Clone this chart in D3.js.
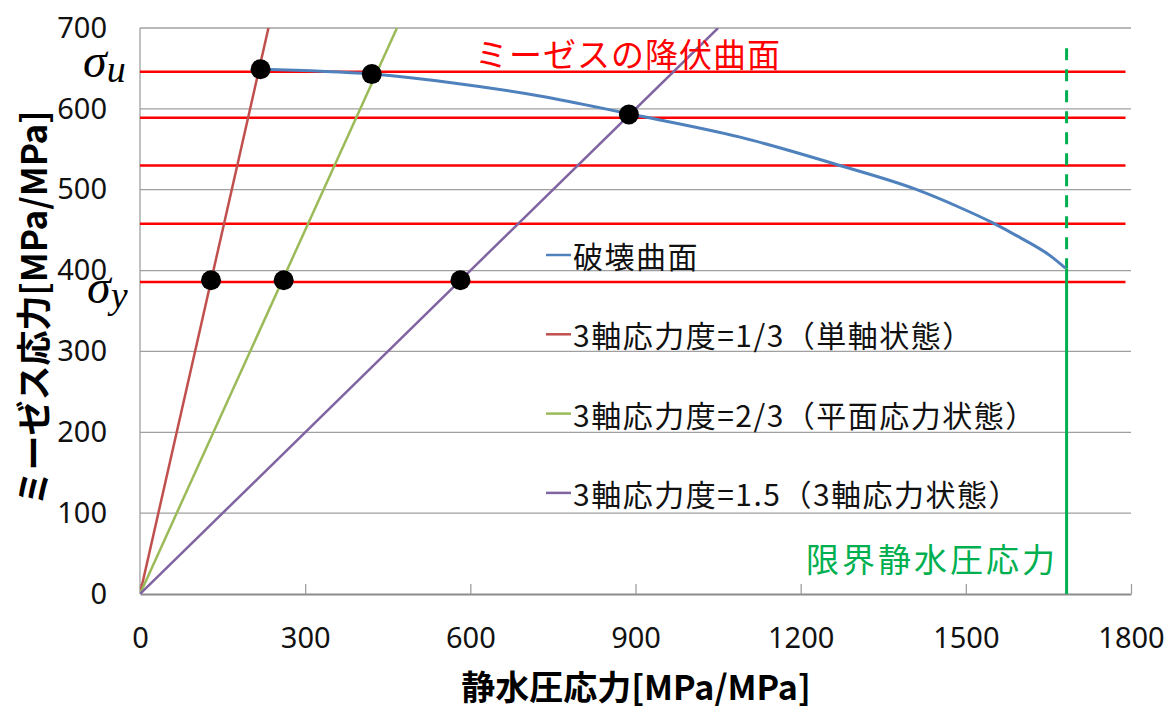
<!DOCTYPE html>
<html lang="ja">
<head>
<meta charset="utf-8">
<script src="https://cdn.jsdelivr.net/npm/d3@7"></script>
<style>
  html, body { margin: 0; padding: 0; background: #fff; }
  svg { display: block; }
  .jp { font-family: "Noto Sans CJK JP", "Noto Sans", sans-serif; }
  .num { font-family: "Noto Sans", "Open Sans", sans-serif; }
</style>
</head>
<body>
<svg id="chart" width="1175" height="708"></svg>
<script>
// Axis ticks
const xTicks = [0, 300, 600, 900, 1200, 1500, 1800];
const yTicks = [0, 100, 200, 300, 400, 500, 600, 700];

// Fracture surface (hydrostatic stress vs. von Mises stress)
const fractureX = [219, 421, 569, 726, 888, 1090, 1271, 1411, 1489, 1549, 1598, 1656, 1681];
const fractureY = [649, 643, 632, 616, 594, 565, 530, 500, 478, 459, 441, 417, 403];

// Constant-triaxiality load paths: end points (origin -> top of plot)
const pathNames = ["3軸応力度=1/3（単軸状態）", "3軸応力度=2/3（平面応力状態）", "3軸応力度=1.5（3軸応力状態）"];
const pathEndX = [233.3, 466.7, 1050];
const pathEndY = [700, 700, 700];
const pathColors = ["#C0504D", "#9BBB59", "#8064A2"];

// Von Mises yield levels (horizontal lines)
const yieldLevels = [646, 589, 530, 458, 386];
const yieldLineEnd = 1790;

// Intersection points
const dotX = [129, 261, 582, 219, 421, 888];
const dotY = [388, 388, 388, 649, 643, 593];

// Critical hydrostatic stress
const criticalX = 1683;
const criticalDashTop = 675;
const criticalSolidTop = 403;

const svg = d3.select("#chart");
const x = d3.scaleLinear().domain([0, 1800]).range([140, 1131]);
const y = d3.scaleLinear().domain([0, 700]).range([594, 28]);

// Horizontal grid
svg.append("g")
  .selectAll("line")
  .data(yTicks.filter(d => d > 0))
  .join("line")
  .attr("x1", x(0)).attr("x2", x(1800))
  .attr("y1", d => y(d)).attr("y2", d => y(d))
  .attr("stroke", "#A0A0A0").attr("stroke-width", 1.3);

// Y axis line
svg.append("line")
  .attr("x1", x(0)).attr("x2", x(0)).attr("y1", y(0)).attr("y2", y(700))
  .attr("stroke", "#A0A0A0").attr("stroke-width", 1.3);

// X axis with inward ticks
const xAxis = svg.append("g")
  .attr("transform", `translate(0,${y(0)})`)
  .call(d3.axisBottom(x).tickValues(xTicks).tickFormat(d3.format("d"))
    .tickSize(-10).tickPadding(33).tickSizeOuter(0));
xAxis.select(".domain").attr("stroke", "#8C8C8C").attr("stroke-width", 2);
xAxis.selectAll(".tick line").attr("stroke", "#A0A0A0").attr("stroke-width", 1.3);
xAxis.selectAll(".tick text").attr("class", "num").attr("font-size", 29).attr("fill", "#111");

// Y axis labels
const yAxis = svg.append("g")
  .attr("transform", `translate(${x(0)},0)`)
  .call(d3.axisLeft(y).tickValues(yTicks).tickSize(0).tickPadding(33));
yAxis.select(".domain").remove();
yAxis.selectAll(".tick text").attr("class", "num").attr("font-size", 29).attr("fill", "#111");

// Clip to plot area
svg.append("clipPath").attr("id", "plot")
  .append("rect").attr("x", x(0)).attr("y", y(700)).attr("width", x(1800) - x(0)).attr("height", y(0) - y(700));

// Yield level lines
svg.append("g")
  .selectAll("line")
  .data(yieldLevels)
  .join("line")
  .attr("x1", x(0)).attr("x2", x(yieldLineEnd))
  .attr("y1", d => y(d)).attr("y2", d => y(d))
  .attr("stroke", "#FF0000").attr("stroke-width", 2.5);

// Triaxiality load paths
svg.append("g").attr("clip-path", "url(#plot)")
  .selectAll("line")
  .data(pathEndX.map((d, i) => ({ x: d, y: pathEndY[i], c: pathColors[i] })))
  .join("line")
  .attr("x1", x(0)).attr("y1", y(0))
  .attr("x2", d => x(d.x)).attr("y2", d => y(d.y))
  .attr("stroke", d => d.c).attr("stroke-width", 2.5);

// Critical hydrostatic stress line
svg.append("line")
  .attr("x1", x(criticalX)).attr("x2", x(criticalX))
  .attr("y1", y(criticalDashTop)).attr("y2", y(criticalSolidTop))
  .attr("stroke", "#00B050").attr("stroke-width", 3).attr("stroke-dasharray", "12,9");
svg.append("line")
  .attr("x1", x(criticalX)).attr("x2", x(criticalX))
  .attr("y1", y(criticalSolidTop)).attr("y2", y(0))
  .attr("stroke", "#00B050").attr("stroke-width", 3);

// Fracture surface
const fracture = fractureX.map((d, i) => [d, fractureY[i]]);
svg.append("path")
  .datum(fracture)
  .attr("fill", "none")
  .attr("stroke", "#4F81BD").attr("stroke-width", 3)
  .attr("d", d3.line().x(d => x(d[0])).y(d => y(d[1])).curve(d3.curveMonotoneX));

// Intersection dots
svg.append("g")
  .selectAll("circle")
  .data(dotX.map((d, i) => [d, dotY[i]]))
  .join("circle")
  .attr("cx", d => x(d[0])).attr("cy", d => y(d[1])).attr("r", 10)
  .attr("fill", "#000");

// Legend
const legend = [{ name: "破壊曲面", color: "#4F81BD" }]
  .concat(pathNames.map((n, i) => ({ name: n, color: pathColors[i] })));
const lg = svg.append("g").selectAll("g").data(legend).join("g")
  .attr("transform", (d, i) => `translate(546,${255 + i * 79.3})`);
lg.append("line").attr("x1", 0).attr("x2", 25).attr("y1", 0).attr("y2", 0)
  .attr("stroke", d => d.color).attr("stroke-width", 2.5);
lg.append("text").attr("class", "jp").attr("x", 27).attr("y", 0)
  .attr("dominant-baseline", "central").attr("font-size", 30).attr("letter-spacing", 1.5)
  .attr("fill", "#111").text(d => d.name);

// Annotations
svg.append("text").attr("class", "jp")
  .attr("x", 628).attr("y", 53).attr("text-anchor", "middle").attr("dominant-baseline", "central")
  .attr("font-size", 33).attr("letter-spacing", 1).attr("fill", "#FF0000").text("ミーゼスの降伏曲面");
svg.append("text").attr("class", "jp")
  .attr("x", 1058).attr("y", 558).attr("text-anchor", "end").attr("dominant-baseline", "central")
  .attr("font-size", 33).attr("letter-spacing", 3).attr("fill", "#00B050").text("限界静水圧応力");

function sigma(xp, yp, sub) {
  const t = svg.append("text").attr("x", xp).attr("y", yp)
    .attr("font-family", "'Liberation Serif', 'DejaVu Serif', serif").attr("font-style", "italic").attr("fill", "#000");
  t.append("tspan").attr("font-size", 48).text("σ");
  t.append("tspan").attr("font-size", 38).attr("dy", 5).text(sub);
}
sigma(83, 77, "u");
sigma(87, 303, "y");

// Axis titles
svg.append("text").attr("class", "jp")
  .attr("x", 636).attr("y", 685).attr("text-anchor", "middle").attr("dominant-baseline", "central")
  .attr("font-size", 34).attr("font-weight", "bold").attr("fill", "#000").text("静水圧応力[MPa/MPa]");
svg.append("text").attr("class", "jp")
  .attr("transform", "translate(31,308) rotate(-90)")
  .attr("text-anchor", "middle").attr("dominant-baseline", "central")
  .attr("font-size", 35).attr("font-weight", "bold").attr("fill", "#000").text("ミーゼス応力[MPa/MPa]");
</script>
</body>
</html>
